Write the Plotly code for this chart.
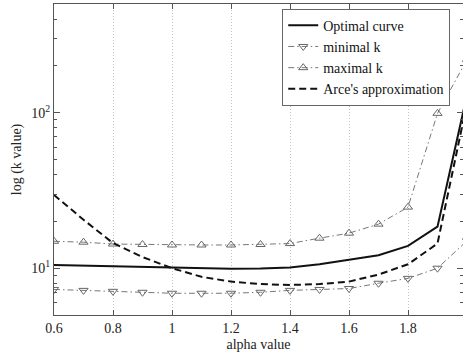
import plotly.graph_objects as go

alpha = [0.6, 0.7, 0.8, 0.9, 1.0, 1.1, 1.2, 1.3, 1.4, 1.5, 1.6, 1.7, 1.8, 1.9, 2.0]
optimal = [10.5, 10.4, 10.2, 10.1, 10.0, 9.9, 9.9, 9.95, 10.1, 10.6, 11.3, 12.1, 13.9, 18.5, 130]
min_k = [7.3, 7.2, 7.1, 7.0, 6.9, 6.9, 6.9, 7.0, 7.2, 7.3, 7.4, 8.0, 8.6, 10.0, 15]
max_k = [14.9, 14.7, 14.3, 14.2, 14.1, 14.1, 14.1, 14.2, 14.4, 15.6, 16.8, 19.2, 24.7, 99, 220]
arce = [29.6, 20.5, 14.5, 11.8, 10.0, 8.8, 8.2, 7.9, 7.8, 7.9, 8.2, 9.1, 10.6, 14.4, 115]

x_ticks = [0.6, 0.8, 1.0, 1.2, 1.4, 1.6, 1.8, 2.0]
x_labels = ["0.6", "0.8", "1", "1.2", "1.4", "1.6", "1.8", "2"]
y_ticks = [10, 100]
y_labels = ["10<sup>1</sup>", "10<sup>2</sup>"]
y_minor = [5, 6, 7, 8, 9, 20, 30, 40, 50, 60, 70, 80, 90, 200, 300, 400, 500]

FONT = "Times New Roman, Liberation Serif, DejaVu Serif, serif"
AXC = "#555555"

fig = go.Figure()
fig.add_trace(go.Scatter(x=alpha, y=optimal, mode="lines", name="Optimal curve",
                         line=dict(color="#111111", width=2)))
fig.add_trace(go.Scatter(x=alpha, y=min_k, mode="lines+markers", name="minimal k",
                         line=dict(color="#777777", width=1, dash="6px,3px,1.5px,3px"),
                         marker=dict(symbol="triangle-down-open", size=8,
                                     color="#666666", line=dict(width=1))))
fig.add_trace(go.Scatter(x=alpha, y=max_k, mode="lines+markers", name="maximal k",
                         line=dict(color="#777777", width=1, dash="6px,3px,1.5px,3px"),
                         marker=dict(symbol="triangle-up-open", size=8,
                                     color="#666666", line=dict(width=1))))
fig.add_trace(go.Scatter(x=alpha, y=arce, mode="lines", name="Arce's approximation",
                         line=dict(color="#111111", width=2, dash="7px,4px")))

fig.update_layout(
    width=463, height=356,
    margin=dict(l=54, r=0, t=4, b=41),
    paper_bgcolor="white", plot_bgcolor="white",
    font=dict(family=FONT, size=13, color="#222222"),
    showlegend=True,
    legend=dict(x=0.558, y=0.985, xanchor="left", yanchor="top",
                bgcolor="white", bordercolor="#666666", borderwidth=1,
                font=dict(family=FONT, size=14, color="#111111"),
                tracegroupgap=0, itemwidth=30),
    xaxis=dict(range=[0.6, 0.6 + 409 / 295], tickvals=x_ticks, ticktext=x_labels,
               showgrid=True, gridcolor="#c4c4c4", griddash="1px,2px", gridwidth=1,
               ticks="inside", ticklen=5, tickcolor=AXC,
               showline=True, linecolor=AXC, linewidth=1, mirror="ticks",
               zeroline=False,
               title=dict(text="alpha value", font=dict(family=FONT, size=14), standoff=4),
               tickfont=dict(family=FONT, size=14)),
    yaxis=dict(type="log", range=[0.699, 2.699], tickvals=y_ticks, ticktext=y_labels,
               showgrid=False, ticks="inside", ticklen=6, tickcolor=AXC,
               minor=dict(tickvals=y_minor, ticks="inside", ticklen=3, tickcolor=AXC,
                          showgrid=False),
               showline=True, linecolor=AXC, linewidth=1, mirror="ticks",
               zeroline=False,
               title=dict(text="log (k value)", font=dict(family=FONT, size=14), standoff=6),
               tickfont=dict(family=FONT, size=14)),
)

fig.write_html("out.html")
